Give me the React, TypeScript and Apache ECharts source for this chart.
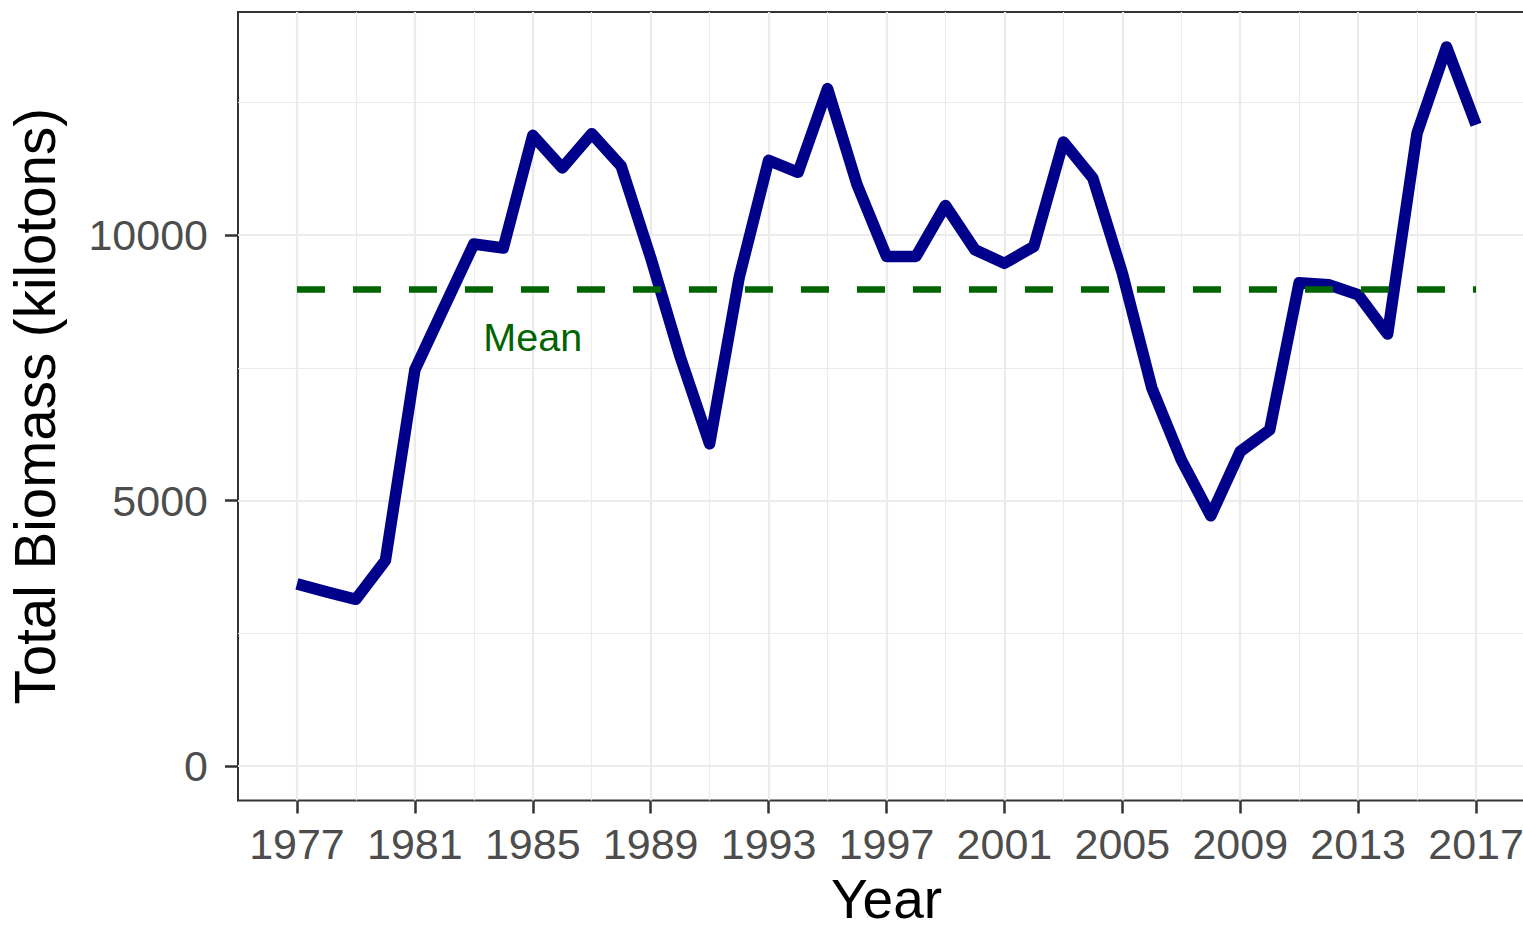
import React, { useEffect, useRef } from 'react';
import * as echarts from 'echarts';

const years = [
  1977, 1978, 1979, 1980, 1981, 1982, 1983, 1984, 1985, 1986,
  1987, 1988, 1989, 1990, 1991, 1992, 1993, 1994, 1995, 1996,
  1997, 1998, 1999, 2000, 2001, 2002, 2003, 2004, 2005, 2006,
  2007, 2008, 2009, 2010, 2011, 2012, 2013, 2014, 2015, 2016,
  2017,
];

const biomass = [
  3431, 3280, 3140, 3870, 7465, 8652, 9834, 9758, 11881, 11268,
  11913, 11300, 9576, 7710, 6070, 9200, 11410, 11185, 12762, 10952,
  9600, 9600, 10560, 9727, 9469, 9789, 11757, 11076, 9286, 7125,
  5768, 4713, 5925, 6334, 9105, 9067, 8878, 8137, 11925, 13547,
  12082,
];

const xMajorBreaks = [1977, 1981, 1985, 1989, 1993, 1997, 2001, 2005, 2009, 2013, 2017];
const xMinorBreaks = [1979, 1983, 1987, 1991, 1995, 1999, 2003, 2007, 2011, 2015];
const yMajorBreaks = [0, 5000, 10000];
const yMinorBreaks = [2500, 7500, 12500];

const meanLabelYear = 1985;
const meanLabelText = 'Mean';

const FONT = "'Liberation Sans', Arial, sans-serif";

export default function App() {
  const ref = useRef<HTMLDivElement>(null);

  useEffect(() => {
    if (!ref.current) return;
    const chart = echarts.init(ref.current, null, { renderer: 'svg' });
    const mean = biomass.reduce((a, b) => a + b, 0) / biomass.length;

    const gridMarks = [
      ...yMinorBreaks.map((v) => ({ yAxis: v, lineStyle: { color: '#EBEBEB', width: 1.1, type: 'solid' } })),
      ...xMinorBreaks.map((v) => ({ xAxis: v, lineStyle: { color: '#EBEBEB', width: 1.1, type: 'solid' } })),
      ...yMajorBreaks.map((v) => ({ yAxis: v, lineStyle: { color: '#EBEBEB', width: 2.2, type: 'solid' } })),
      ...xMajorBreaks.map((v) => ({ xAxis: v, lineStyle: { color: '#EBEBEB', width: 2.2, type: 'solid' } })),
    ];

    const option: any = {
      animation: false,
      backgroundColor: '#ffffff',
      textStyle: { fontFamily: FONT },
      grid: {
        left: 238,
        right: -12,
        top: 12,
        bottom: 130.5,
        show: true,
        borderColor: '#333333',
        borderWidth: 2,
        backgroundColor: 'transparent',
        containLabel: false,
        outerBoundsMode: 'none',
      },
      xAxis: {
        type: 'value',
        min: 1975,
        max: 2019,
        name: 'Year',
        nameLocation: 'middle',
        nameGap: 76,
        nameTextStyle: { fontSize: 55, lineHeight: 44, color: '#000000', fontFamily: FONT },
        axisLine: { show: false, onZero: false },
        axisTick: {
          show: true,
          customValues: xMajorBreaks,
          length: 13,
          lineStyle: { color: '#333333', width: 2.5 },
        },
        axisLabel: {
          show: true,
          customValues: xMajorBreaks,
          formatter: (v: number) => String(v),
          fontSize: 43,
          color: '#4D4D4D',
          margin: 22,
          fontFamily: FONT,
        },
        splitLine: { show: false },
      },
      yAxis: {
        type: 'value',
        min: -650,
        max: 14205,
        name: 'Total Biomass (kilotons)',
        nameLocation: 'middle',
        nameRotate: 90,
        nameGap: 174,
        nameTextStyle: { fontSize: 56.5, color: '#000000', fontFamily: FONT },
        axisLine: { show: false, onZero: false },
        axisTick: {
          show: true,
          customValues: yMajorBreaks,
          length: 13,
          lineStyle: { color: '#333333', width: 2.5 },
        },
        axisLabel: {
          show: true,
          customValues: yMajorBreaks,
          formatter: (v: number) => String(v),
          fontSize: 43,
          color: '#4D4D4D',
          margin: 30,
          fontFamily: FONT,
        },
        splitLine: { show: false },
      },
      series: [
        {
          type: 'line',
          name: 'grid',
          data: [],
          silent: true,
          z: 1,
          markLine: {
            z: 1,
            silent: true,
            animation: false,
            symbol: ['none', 'none'],
            label: { show: false },
            emphasis: { disabled: true },
            data: gridMarks,
          },
        },
        {
          type: 'line',
          name: 'Biomass',
          data: years.map((y, i) => [y, biomass[i]]),
          showSymbol: false,
          symbol: 'none',
          z: 3,
          lineStyle: { color: '#00008B', width: 11.5, cap: 'butt', join: 'round' },
        },
        {
          type: 'line',
          name: 'Mean',
          data: [],
          silent: true,
          z: 4,
          markLine: {
            z: 6,
            silent: true,
            animation: false,
            symbol: ['none', 'none'],
            label: { show: false },
            emphasis: { disabled: true },
            lineStyle: { color: '#006400', width: 6.5, type: [28, 28], cap: 'butt', dashOffset: 0 },
            data: [
              [
                { coord: [years[0], mean] },
                { coord: [years[years.length - 1], mean] },
              ],
            ],
          },
          markPoint: {
            z: 6,
            silent: true,
            animation: false,
            symbol: 'circle',
            symbolSize: 0,
            itemStyle: { color: 'transparent' },
            label: {
              show: true,
              position: 'inside',
              formatter: meanLabelText,
              color: '#006400',
              fontSize: 39.5,
              fontFamily: FONT,
            },
            data: [{ coord: [meanLabelYear, mean * 0.9] }],
          },
        },
      ],
    };

    chart.setOption(option);
    return () => chart.dispose();
  }, []);

  return (
    <div
      ref={ref}
      style={{ position: 'fixed', left: 0, top: 0, width: 1523, height: 931, background: '#ffffff' }}
    />
  );
}
